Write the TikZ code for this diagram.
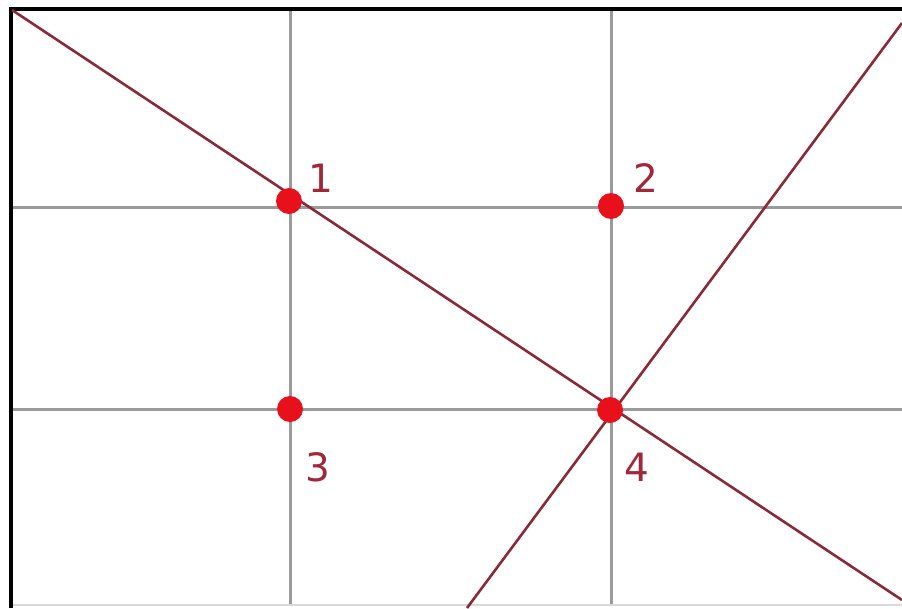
\documentclass[tikz,border=0pt]{standalone}
\usepackage{fontspec}
\setsansfont{DejaVu Sans}
\usetikzlibrary{positioning}
\definecolor{cline}{HTML}{8A2A36}
\definecolor{cdot}{HTML}{E8101A}
\definecolor{cgrid}{HTML}{9A9A9A}
\definecolor{clabel}{HTML}{A0283A}
\tikzset{
  every picture/.style={x=1pt, y=-1pt},
  frame/.style={draw=black, line width=3.5pt},
  gridline/.style={draw=cgrid, line width=3pt},
  diag/.style={draw=cline, line width=2.6pt},
  spot/.style={circle, fill=cdot, inner sep=0pt, minimum size=26pt},
  num/.style={font=\sffamily\fontsize{39}{39}\selectfont, text=clabel, inner sep=0pt},
}

\begin{document}
\begin{tikzpicture}
  \useasboundingbox (0,0) rectangle (902,608);

  % frame
  \draw[draw=black!15, line width=2pt] (11,605) -- (902,605);
  \draw[frame] (11,608) -- (11,9) -- (902,9);

  % thirds
  \draw[gridline] (290,11) -- (290,604);
  \draw[gridline] (611,11) -- (611,604);
  \draw[gridline] (13,207) -- (902,207);
  \draw[gridline] (13,409) -- (902,409);

  % diagonals
  \coordinate (tl) at (12,10);
  \coordinate (br) at (902,600);
  \coordinate (bl) at (467,608);
  \coordinate (tr) at (902,23);
  \draw[diag] (tl) -- (br);
  \draw[diag] (bl) -- (tr);

  % power points
  \node[spot] (p1) at (289,201) {};
  \node[spot] (p2) at (611,206) {};
  \node[spot] (p3) at (290,409) {};
  \node[spot] (p4) at (610,410) {};

  \node[num] (n1) at (321,178) {1};
  \node[num] (n2) at (646,178) {2};
  \node[num] (n3) at (318,467) {3};
  \node[num] (n4) at (637,467) {4};
\end{tikzpicture}
\end{document}
